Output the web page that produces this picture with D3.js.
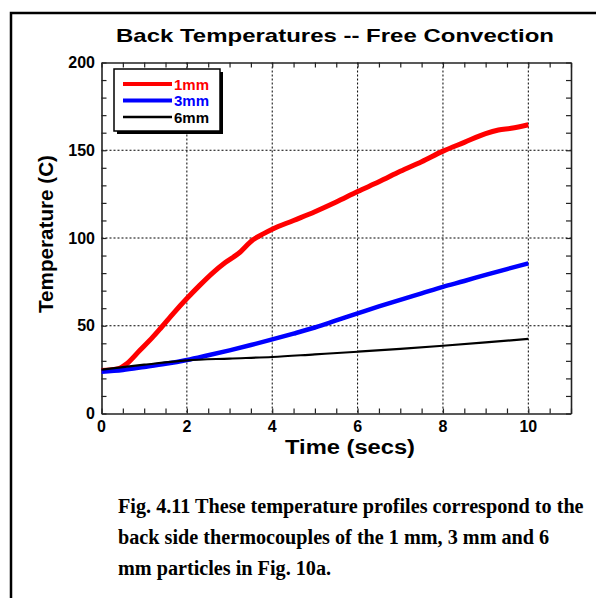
<!DOCTYPE html>
<html>
<head>
<meta charset="utf-8">
<script src="https://cdn.jsdelivr.net/npm/d3@7"></script>
<style>
  body { margin: 0; background: white; }
  svg { display: block; }
</style>
</head>
<body>
<script>
// 読み取ったデータ (時間[s] と 温度[C])
const time1mm = [0, 0.2, 0.4, 0.6, 0.9, 1.2, 1.4, 1.7, 2.0, 2.3, 2.6, 2.9, 3.2, 3.55, 3.8, 4.0, 4.5, 5, 5.5, 6, 6.5, 7, 7.5, 8, 8.5, 9, 9.3, 9.6, 10];
const temp1mm = [24.5, 24.8, 25.5, 28.5, 36, 43.5, 49, 57.5, 65.5, 73, 80, 86, 91, 99, 102.5, 105, 110, 115, 120.5, 126.5, 132, 138, 143.5, 149.5, 154.5, 159.5, 161.5, 162.5, 164.5];

const time3mm = [0, 0.5, 1, 1.5, 2, 2.5, 3, 3.5, 4, 4.5, 5, 5.5, 6, 6.5, 7, 7.5, 8, 8.5, 9, 9.5, 10];
const temp3mm = [23.8, 24.8, 26.5, 28.3, 30.5, 33.2, 36, 39, 42.2, 45.5, 49, 53, 57, 61, 64.8, 68.5, 72.2, 75.5, 79, 82.3, 85.5];

const time6mm = [0, 1, 2, 3, 4, 5, 6, 7, 8, 9, 10];
const temp6mm = [25, 27.8, 30.3, 31.3, 32.2, 33.7, 35.2, 36.8, 38.6, 40.5, 42.5];

const seriesNames = ["1mm", "3mm", "6mm"];
const seriesColors = ["#ff0000", "#0000ff", "#000000"];
const xTicks = [0, 2, 4, 6, 8, 10];
const yTicks = [0, 50, 100, 150, 200];

const titleText = "Back Temperatures -- Free Convection";
const xLabel = "Time (secs)";
const yLabel = "Temperature (C)";
const captionLines = [
    "Fig. 4.11 These temperature profiles correspond to the",
    "back side thermocouples of the 1 mm, 3 mm and 6",
    "mm particles in Fig. 10a."
];

const width = 596, height = 598;
const sansFont = "'Liberation Sans', Arial, sans-serif";
const serifFont = "'Liberation Serif', 'Times New Roman', serif";

const svg = d3.select("body").append("svg")
    .attr("width", width)
    .attr("height", height);

// 外枠
svg.append("rect")
    .attr("x", 11).attr("y", 13)
    .attr("width", 700).attr("height", 700)
    .attr("fill", "none")
    .attr("stroke", "#000")
    .attr("stroke-width", 2.5);

// プロット領域
const plot = {left: 101.5, right: 571, top: 62.5, bottom: 413.5};

const x = d3.scaleLinear().domain([0, 11]).range([plot.left, plot.right]);
const y = d3.scaleLinear().domain([0, 200]).range([plot.bottom, plot.top]);

const xMinor = d3.range(0, 11.001, 0.5);
const yMinor = d3.range(0, 200.001, 10);

// グリッド (点線)
const g = svg.append("g");
g.selectAll(".vgrid")
    .data(xTicks.filter(d => d > 0))
    .enter().append("line")
    .attr("x1", d => x(d)).attr("x2", d => x(d))
    .attr("y1", plot.top).attr("y2", plot.bottom)
    .attr("stroke", "#000").attr("stroke-width", 1)
    .attr("stroke-dasharray", "2,2");
g.selectAll(".hgrid")
    .data(yTicks.filter(d => d > 0 && d < 200))
    .enter().append("line")
    .attr("x1", plot.left).attr("x2", plot.right)
    .attr("y1", d => y(d)).attr("y2", d => y(d))
    .attr("stroke", "#000").attr("stroke-width", 1)
    .attr("stroke-dasharray", "2,2");

// 目盛り (内向き、四辺)
const tickLen = 5;
function styleAxis(sel) {
    sel.select(".domain").attr("stroke", "#222").attr("stroke-width", 1.6);
    sel.selectAll(".tick line").attr("stroke", "#222").attr("stroke-width", 1.2);
}
svg.append("g").attr("transform", `translate(0,${plot.bottom})`)
    .call(d3.axisBottom(x).tickValues(xMinor).tickSizeInner(-tickLen).tickSizeOuter(0).tickFormat(""))
    .call(styleAxis);
svg.append("g").attr("transform", `translate(0,${plot.top})`)
    .call(d3.axisTop(x).tickValues(xMinor).tickSizeInner(-tickLen).tickSizeOuter(0).tickFormat(""))
    .call(styleAxis);
svg.append("g").attr("transform", `translate(${plot.left},0)`)
    .call(d3.axisLeft(y).tickValues(yMinor).tickSizeInner(-tickLen).tickSizeOuter(0).tickFormat(""))
    .call(styleAxis);
svg.append("g").attr("transform", `translate(${plot.right},0)`)
    .call(d3.axisRight(y).tickValues(yMinor).tickSizeInner(-tickLen).tickSizeOuter(0).tickFormat(""))
    .call(styleAxis);

// 目盛りラベル
svg.selectAll(".xlab")
    .data(xTicks)
    .enter().append("text")
    .attr("x", d => x(d))
    .attr("y", 432)
    .attr("text-anchor", "middle")
    .attr("font-family", sansFont)
    .attr("font-weight", "bold")
    .attr("font-size", 16)
    .text(d => d);
svg.selectAll(".ylab")
    .data(yTicks)
    .enter().append("text")
    .attr("x", 95)
    .attr("y", d => y(d) + 5.5)
    .attr("text-anchor", "end")
    .attr("font-family", sansFont)
    .attr("font-weight", "bold")
    .attr("font-size", 16)
    .text(d => d);

// 線
const series = [
    {name: seriesNames[0], color: seriesColors[0], width: 5, t: time1mm, v: temp1mm},
    {name: seriesNames[1], color: seriesColors[1], width: 4.5, t: time3mm, v: temp3mm},
    {name: seriesNames[2], color: seriesColors[2], width: 2.2, t: time6mm, v: temp6mm}
];
const line = d3.line()
    .x(d => x(d[0]))
    .y(d => y(d[1]))
    .curve(d3.curveMonotoneX);
series.forEach(s => {
    svg.append("path")
        .datum(s.t.map((t, i) => [t, s.v[i]]))
        .attr("fill", "none")
        .attr("stroke", s.color)
        .attr("stroke-width", s.width)
        .attr("d", line);
});

// 凡例
const lg = svg.append("g");
lg.append("rect")
    .attr("x", 117).attr("y", 72)
    .attr("width", 106).attr("height", 62)
    .attr("fill", "#000");
lg.append("rect")
    .attr("x", 114).attr("y", 69)
    .attr("width", 106).attr("height", 62)
    .attr("fill", "#fff")
    .attr("stroke", "#000")
    .attr("stroke-width", 1.5);
series.forEach((s, i) => {
    const ly = 84 + i * 16.5;
    lg.append("line")
        .attr("x1", 123).attr("x2", 172)
        .attr("y1", ly).attr("y2", ly)
        .attr("stroke", s.color)
        .attr("stroke-width", i == 2 ? 2.5 : 4);
    lg.append("text")
        .attr("x", 174)
        .attr("y", ly + 5.5)
        .attr("font-family", sansFont)
        .attr("font-weight", "bold")
        .attr("font-size", 15)
        .attr("fill", s.color)
        .text(s.name);
});

// タイトル
svg.append("text")
    .attr("x", 116).attr("y", 42)
    .attr("font-family", sansFont)
    .attr("font-weight", "bold")
    .attr("font-size", 19)
    .attr("textLength", 438)
    .attr("lengthAdjust", "spacingAndGlyphs")
    .text(titleText);

// 軸ラベル
svg.append("text")
    .attr("x", 285).attr("y", 454)
    .attr("font-family", sansFont)
    .attr("font-weight", "bold")
    .attr("font-size", 20)
    .attr("textLength", 130)
    .attr("lengthAdjust", "spacingAndGlyphs")
    .text(xLabel);
svg.append("text")
    .attr("transform", "translate(53,234) rotate(-90)")
    .attr("text-anchor", "middle")
    .attr("font-family", sansFont)
    .attr("font-weight", "bold")
    .attr("font-size", 20)
    .attr("textLength", 158)
    .attr("lengthAdjust", "spacingAndGlyphs")
    .text(yLabel);

// キャプション
svg.selectAll(".caption")
    .data(captionLines)
    .enter().append("text")
    .attr("x", 118)
    .attr("y", (d, i) => 513 + i * 31)
    .attr("font-family", serifFont)
    .attr("font-weight", "bold")
    .attr("font-size", 20.2)
    .text(d => d);
</script>
</body>
</html>
